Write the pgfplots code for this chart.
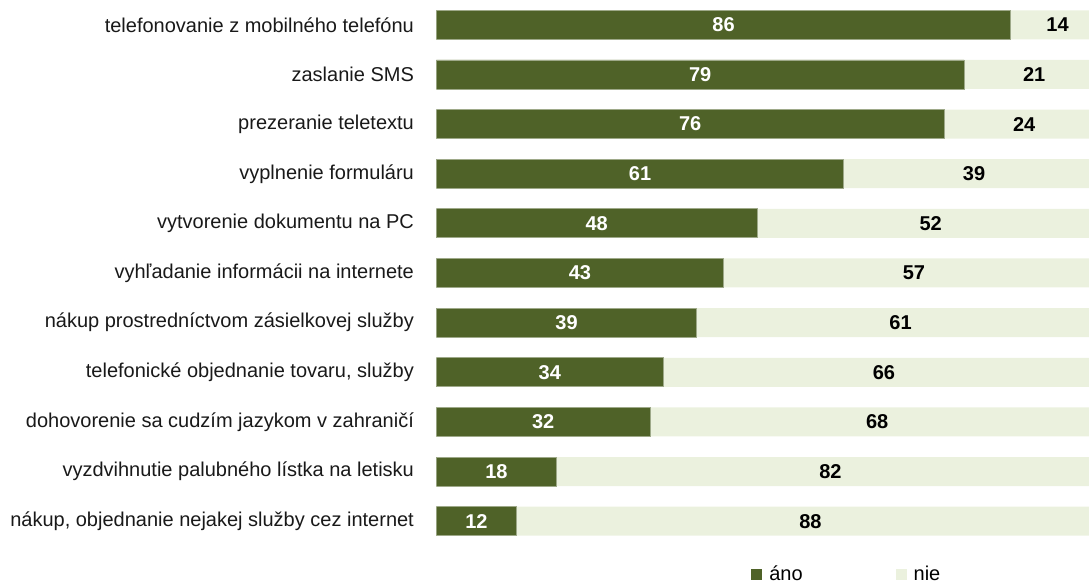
\documentclass[border=0pt]{standalone}
\usepackage{fontspec}
\setmainfont{Liberation Sans}
\usepackage{pgfplots}
\usepackage{pgfplotstable}
\pgfplotsset{compat=1.18}
\definecolor{ano}{HTML}{4F6228}
\definecolor{nie}{HTML}{EBF1DE}
\pgfplotstableread{
y ano nie
10 86 14
9 79 21
8 76 24
7 61 39
6 48 52
5 43 57
4 39 61
3 34 66
2 32 68
1 18 82
0 12 88
}\data
\pgfplotsset{sqlegend/.style={legend image code/.code={\path[##1,draw=none] (0pt,-2.75pt) rectangle (5.5pt,2.75pt);}}}
\begin{document}
\begin{tikzpicture}
\begin{axis}[
  at={(0,0)}, anchor=south west,
  scale only axis, width=326.35pt, height=273pt,
  xmin=0, xmax=97.7, ymin=-0.5, ymax=10.5,
  /pgf/number format/assume math mode=true,
  axis line style={draw=none},
  xtick=\empty,
  ytick={0,...,10},
  yticklabels={{nákup, objednanie nejakej služby cez internet},
    {vyzdvihnutie palubného lístka na letisku},
    {dohovorenie sa cudzím jazykom v zahraničí},
    {telefonické objednanie tovaru, služby},
    {nákup prostredníctvom zásielkovej služby},
    {vyhľadanie informácii na internete},
    {vytvorenie dokumentu na PC},
    {vyplnenie formuláru},
    {prezeranie teletextu},
    {zaslanie SMS},
    {telefonovanie z mobilného telefónu}},
  major tick length=0pt,
  tick style={draw=none},
  yticklabel style={inner sep=0pt, xshift=-11pt, text=black!90},
  legend columns=2,
  reverse legend,
  legend style={at={(0.482,-0.0531)}, anchor=west, draw=none, fill=none,
    inner sep=0pt, nodes={inner sep=1pt},
    /tikz/every odd column/.append style={column sep=2.5pt},
    /tikz/every even column/.append style={column sep=45.5pt}},
]
\addplot[xbar, bar width=14.5pt, bar shift=0pt, fill=nie, draw=none, sqlegend]
  table[x expr=\thisrow{ano}+\thisrow{nie}, y=y]{\data};
\addlegendentry{nie}
\addplot[xbar, bar width=14.5pt, bar shift=0pt, fill=ano, draw=ano!55!white, line width=0.4pt, sqlegend]
  table[x=ano, y=y]{\data};
\addlegendentry{áno}
\addplot[draw=none, mark=none, forget plot, nodes near coords, point meta=\thisrow{ano},
  every node near coord/.append style={anchor=center, font=\bfseries, text=white}]
  table[x expr=\thisrow{ano}/2, y=y]{\data};
\addplot[draw=none, mark=none, forget plot, nodes near coords, point meta=\thisrow{nie},
  every node near coord/.append style={anchor=center, font=\bfseries, text=black}]
  table[x expr=\thisrow{ano}+\thisrow{nie}/2, y=y]{\data};
\end{axis}
\pgfresetboundingbox
\path ([xshift=-218.15pt,yshift=-18pt]current axis.south west) rectangle (current axis.north east);
\end{tikzpicture}
\end{document}
